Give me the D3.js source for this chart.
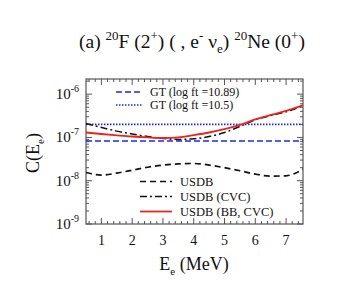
<!DOCTYPE html>
<html>
<head>
<meta charset="utf-8">
<script src="https://cdn.jsdelivr.net/npm/d3@7/dist/d3.min.js"></script>
<style>
  body { margin: 0; background: #fff; }
  text { font-family: "Liberation Serif", "Times New Roman", serif; }
</style>
</head>
<body>
<svg id="chart" width="355" height="304"></svg>
<script>
// electron energy grid (MeV)
const energy = [0.5, 1, 1.5, 2, 2.5, 3, 3.5, 4, 4.5, 5, 5.5, 6, 6.5, 7, 7.55]

// C(Ee) curves
const usdb      = [1.55e-8, 1.35e-8, 1.5e-8, 1.75e-8, 2.05e-8, 2.3e-8, 2.45e-8, 2.5e-8, 2.3e-8, 2.0e-8, 1.7e-8, 1.42e-8, 1.28e-8, 1.3e-8, 1.85e-8]
const usdbCvc   = [2.1e-7, 1.7e-7, 1.4e-7, 1.2e-7, 1.05e-7, 9.5e-8, 9.0e-8, 9.3e-8, 1.05e-7, 1.3e-7, 1.8e-7, 2.55e-7, 3.2e-7, 3.9e-7, 5.4e-7]
const usdbBbCvc = [1.3e-7, 1.2e-7, 1.12e-7, 1.05e-7, 1.0e-7, 9.7e-8, 1.0e-7, 1.13e-7, 1.3e-7, 1.55e-7, 1.95e-7, 2.6e-7, 3.3e-7, 4.1e-7, 5.6e-7]
const gt1089 = 8.3e-8
const gt105  = 2.0e-7

const xTicks = [1, 2, 3, 4, 5, 6, 7]
const yTicks = [-9, -8, -7, -6]

const svg = d3.select("#chart")
const L = 86, R = 303, T = 79, B = 224

const x = d3.scaleLinear().domain([0.5, 7.55]).range([L, R])
const y = d3.scaleLog().domain([1e-9, Math.pow(10, -5.65)]).range([B, T])

const frameColor = "#555"

// clip
svg.append("defs").append("clipPath").attr("id", "clip")
  .append("rect").attr("x", L).attr("y", T).attr("width", R - L).attr("height", B - T)

// ticks: x minor every 0.2, major at integers
const g = svg.append("g")
const xMinor = d3.range(0.6, 7.56, 0.2).map(v => Math.round(v * 10) / 10)
xMinor.forEach(v => {
  const major = Math.abs(v - Math.round(v)) < 1e-6
  const len = major ? 6 : 3
  g.append("line").attr("x1", x(v)).attr("x2", x(v)).attr("y1", B).attr("y2", B - len)
    .attr("stroke", frameColor).attr("stroke-width", 1)
  g.append("line").attr("x1", x(v)).attr("x2", x(v)).attr("y1", T).attr("y2", T + len)
    .attr("stroke", frameColor).attr("stroke-width", 1)
})
// y log ticks
for (let e = -9; e <= -6; e++) {
  for (let m = 1; m <= 9; m++) {
    const v = m * Math.pow(10, e)
    if (v > y.domain()[1]) continue
    const len = m === 1 ? 6 : 3
    g.append("line").attr("x1", L).attr("x2", L + len).attr("y1", y(v)).attr("y2", y(v))
      .attr("stroke", frameColor).attr("stroke-width", 1)
    g.append("line").attr("x1", R).attr("x2", R - len).attr("y1", y(v)).attr("y2", y(v))
      .attr("stroke", frameColor).attr("stroke-width", 1)
  }
}

// frame
svg.append("rect").attr("x", L).attr("y", T).attr("width", R - L).attr("height", B - T)
  .attr("fill", "none").attr("stroke", frameColor).attr("stroke-width", 1.2)

// x tick labels
svg.append("g").selectAll("text").data(xTicks).join("text")
  .attr("x", d => x(d)).attr("y", 245).attr("text-anchor", "middle")
  .attr("font-size", 14).attr("fill", "#111").text(d => d)

// y tick labels 10^n
const yl = svg.append("g").selectAll("text").data(yTicks).join("text")
  .attr("x", 79).attr("y", d => y(Math.pow(10, d)) + 5).attr("text-anchor", "end")
  .attr("font-size", 15).attr("fill", "#111")
yl.append("tspan").text("10")
yl.append("tspan").attr("dy", -7).attr("font-size", 10).text(d => d)

// axis labels
const ylab = svg.append("text").attr("transform", "translate(39,153) rotate(-90)")
  .attr("text-anchor", "middle").attr("font-size", 18).attr("fill", "#111")
ylab.append("tspan").text("C(E")
ylab.append("tspan").attr("dy", 5).attr("font-size", 11).text("e")
ylab.append("tspan").attr("dy", -5).text(")")

const xlab = svg.append("text").attr("x", 194).attr("y", 270)
  .attr("text-anchor", "middle").attr("font-size", 18).attr("fill", "#111")
xlab.append("tspan").text("E")
xlab.append("tspan").attr("dy", 5).attr("font-size", 11).text("e")
xlab.append("tspan").attr("dy", -5).text(" (MeV)")

// title
const title = svg.append("text").attr("x", 79).attr("y", 48)
  .attr("font-size", 19.5).attr("fill", "#111")
const sup = (t) => { title.append("tspan").attr("dy", -8).attr("font-size", 13).text(t) }
const norm = (t) => { title.append("tspan").attr("dy", 8).text(t) }
title.append("tspan").text("(a) ")
sup("20"); norm("F (2")
sup("+"); norm(") ( , e")
sup("-"); norm(" \u03bd")
title.append("tspan").attr("dy", 5).attr("font-size", 13).text("e")
title.append("tspan").attr("dy", -5).text(") ")
sup("20"); norm("Ne (0")
sup("+"); norm(")")

// curves
const plot = svg.append("g").attr("clip-path", "url(#clip)")
const line = d3.line().x(d => x(d[0])).y(d => y(d[1])).curve(d3.curveMonotoneX)

const series = [
  { name: "USDB", vals: usdb, color: "#111", dash: "6,4", width: 1.7 },
  { name: "USDB (CVC)", vals: usdbCvc, color: "#111", dash: "7,3,2,3", width: 1.5 },
  { name: "USDB (BB, CVC)", vals: usdbBbCvc, color: "#e8251f", dash: null, width: 1.8 }
]
const gts = [
  { name: "GT (log ft =10.89)", val: gt1089, dash: "6,3", width: 1.5 },
  { name: "GT (log ft =10.5)", val: gt105, dash: "1.5,1.5", width: 1.7 }
]

gts.forEach(s => {
  plot.append("line").attr("x1", L).attr("x2", R).attr("y1", y(s.val)).attr("y2", y(s.val))
    .attr("stroke", "#1a2bf0").attr("stroke-width", s.width).attr("stroke-dasharray", s.dash)
})
series.forEach(s => {
  plot.append("path").datum(energy.map((e, i) => [e, s.vals[i]]))
    .attr("d", line).attr("fill", "none").attr("stroke", s.color)
    .attr("stroke-width", s.width).attr("stroke-dasharray", s.dash)
})

// legend top-left (GT)
gts.forEach((s, i) => {
  const yy = 92 + i * 13
  svg.append("line").attr("x1", 116).attr("x2", 143).attr("y1", yy).attr("y2", yy)
    .attr("stroke", "#1a2bf0").attr("stroke-width", s.width).attr("stroke-dasharray", s.dash)
  svg.append("text").attr("x", 150).attr("y", yy + 4).attr("font-size", 12).attr("fill", "#111").text(s.name)
})
// legend bottom (USDB)
series.forEach((s, i) => {
  const yy = 181.5 + i * 15
  svg.append("line").attr("x1", 140).attr("x2", 172).attr("y1", yy).attr("y2", yy)
    .attr("stroke", s.color).attr("stroke-width", s.width).attr("stroke-dasharray", s.dash)
  svg.append("text").attr("x", 180).attr("y", yy + 4).attr("font-size", 12.5).attr("fill", "#111").text(s.name)
})
</script>
</body>
</html>
